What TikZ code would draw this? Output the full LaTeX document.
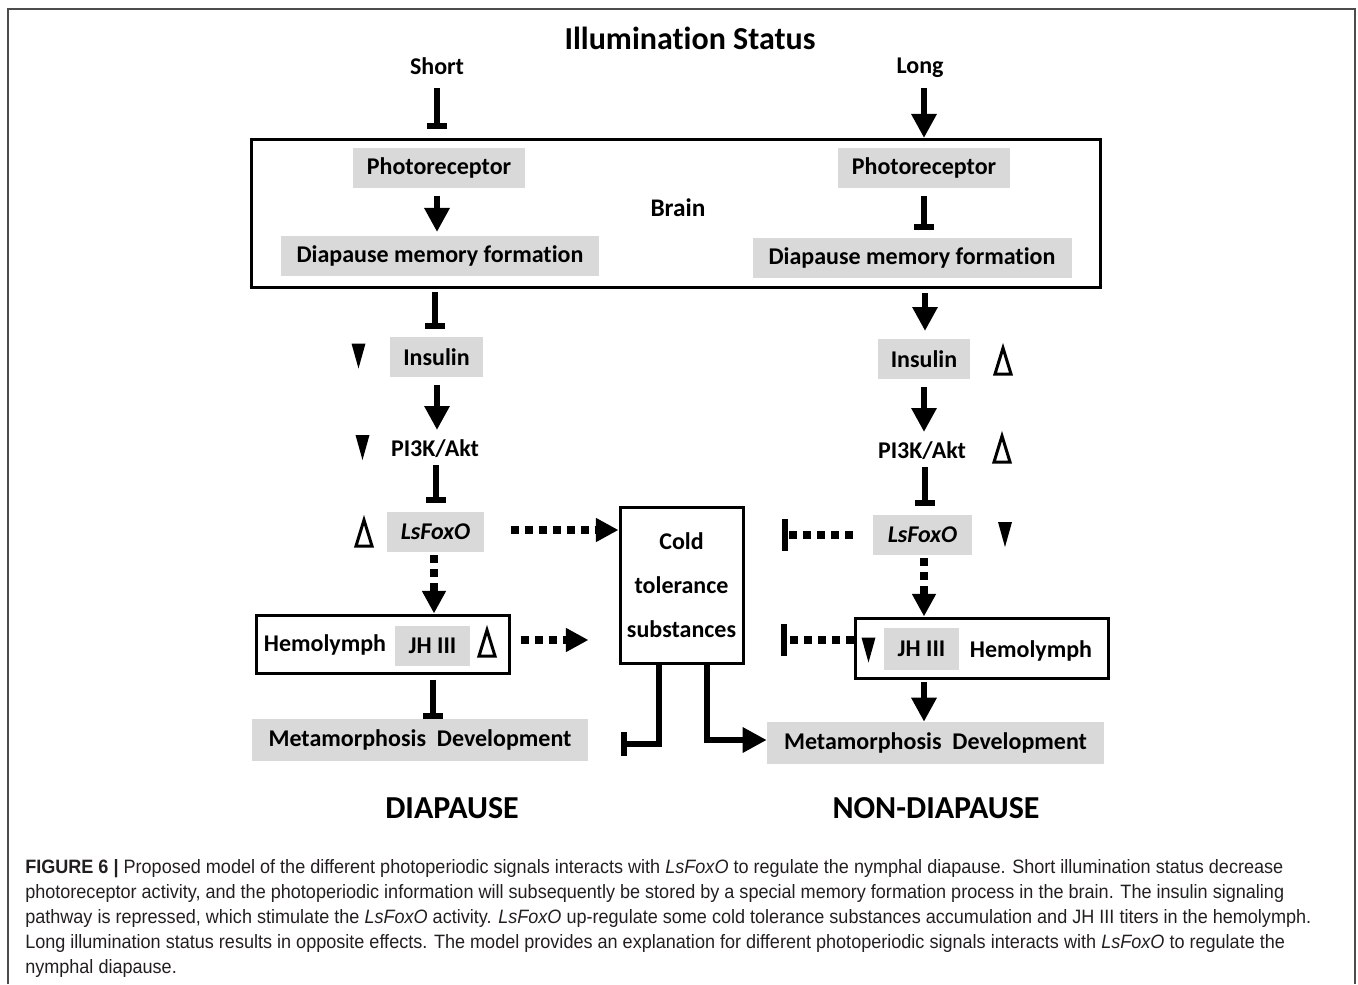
\documentclass[tikz,border=0pt]{standalone}
\usepackage{fontspec}
\setmainfont[Ligatures=NoCommon]{Carlito}
\newfontfamily\capfont[FakeStretch=0.934]{Liberation Sans}
\usetikzlibrary{arrows.meta,calc}
\definecolor{boxgray}{RGB}{217,217,217}
\definecolor{captxt}{RGB}{35,31,32}
\tikzset{
  lbl/.style={font=\bfseries\fontsize{18}{20}\selectfont, inner sep=0pt},
  big/.style={font=\bfseries\fontsize{24}{26}\selectfont, inner sep=0pt},
  gbox/.style={fill=boxgray, inner sep=0pt, minimum height=30pt, font=\bfseries\fontsize{18}{20}\selectfont},
  frame/.style={draw, line width=2.25pt, fill=white, inner sep=0pt},
  act/.style={line width=4.5pt, -{Triangle[width=18pt,length=18pt]}},
  inh/.style={line width=4.5pt, -{Bar[width=15pt]}},
  dact/.style={line width=6pt, dash pattern=on 6pt off 4.5pt, -{Triangle[width=17pt,length=17pt]}},
  dinh/.style={line width=6pt, dash pattern=on 6pt off 4.5pt, -{Bar[width=24pt,line width=5pt]}},
  captext/.style={font=\capfont\fontsize{14.5}{16}\selectfont, text=captxt, anchor=base west, inner sep=0pt},
  dntri/.pic={\fill (-7,-12.5) -- (7,-12.5) -- (0,12.5) -- cycle;},
  uptri/.pic={\draw[line width=2.25pt, line join=miter] (-8,13) -- (8,13) -- (0,-13) -- cycle;}
}
\begin{document}
\begin{tikzpicture}[x=0.75pt,y=-0.75pt]
\useasboundingbox (0,0) rectangle (1358,984);
\draw[black!70, line width=1.5pt] (8,984) -- (8,9) -- (1355,9) -- (1355,984);

% headings
\node[big] (title) at (690,38) {Illumination Status};
\node[lbl] (short) at (437,66) {Short};
\node[lbl] (long) at (920,68) {Long};

% brain
\node[frame, minimum width=636.75pt, minimum height=110.25pt] (brainbox) at (675.5,213.5) {};
\node[gbox, minimum width=129pt] (lph) at (439,168) {Photoreceptor};
\node[gbox, minimum width=238.5pt] (ldm) at (440,256) {Diapause memory formation};
\node[lbl, font=\bfseries\fontsize{19}{21}\selectfont] (brain) at (678,208) {Brain};
\node[gbox, minimum width=129pt] (rph) at (924,168) {Photoreceptor};
\node[gbox, minimum width=239.25pt] (rdm) at (912,258) {Diapause memory formation};

% left column
\node[gbox, minimum width=69.75pt] (lins) at (436.5,357) {Insulin};
\node[lbl] (lpi) at (435,449) {PI3K/Akt};
\node[gbox, minimum width=72.75pt, font=\bfseries\itshape\fontsize{18}{20}\selectfont] (lfox) at (435.5,532) {LsFoxO};
\node[frame, minimum width=189.75pt, minimum height=43.5pt] (lhemo) at (382.5,644) {};
\node[lbl] (lhemotxt) at (325,645) {Hemolymph};
\node[gbox, minimum width=56.25pt] (ljh) at (432.5,646) {JH III};
\node[gbox, minimum width=252pt, minimum height=31.5pt] (lmeta) at (420,740) {Metamorphosis~ Development};

% right column
\node[gbox, minimum width=69pt] (rins) at (924,359) {Insulin};
\node[lbl] (rpi) at (922,451) {PI3K/Akt};
\node[gbox, minimum width=74.25pt, font=\bfseries\itshape\fontsize{18}{20}\selectfont] (rfox) at (922.5,535) {LsFoxO};
\node[frame, minimum width=189.75pt, minimum height=45pt] (rhemo) at (981.5,648) {};
\node[gbox, minimum width=56.25pt, minimum height=31.5pt] (rjh) at (921.5,649) {JH III};
\node[lbl] (rhemotxt) at (1031,651) {Hemolymph};
\node[gbox, minimum width=252.75pt, minimum height=31.5pt] (rmeta) at (935.5,743) {Metamorphosis~ Development};

% cold tolerance
\node[frame, minimum width=92.25pt, minimum height=117pt, align=center,
      font=\bfseries\fontsize{18}{33}\selectfont] (cold) at (681.5,585) {Cold\\tolerance\\substances};

% outcomes
\node[big] (dia) at (452,808) {DIAPAUSE};
\node[big] (ndia) at (936,808) {NON-DIAPAUSE};

% markers
\pic at (358.5,356) {dntri};
\pic at (362.5,447.5) {dntri};
\pic at (364,533) {uptri};
\pic at (487,643) {uptri};
\pic at (1003,361) {uptri};
\pic at (1002,449) {uptri};
\pic at (1005,534.5) {dntri};
\pic at (868.5,650) {dntri};

% connectors
\draw[inh] ($(short)+(0,22)$) -- ($(short)+(0,63)$);
\draw[act] ($(long)+(4,20)$) -- ($(long)+(4,70)$);
\draw[act] ($(lph)+(-2,28)$) -- ($(lph)+(-2,64)$);
\draw[inh] ($(rph)+(0,28)$) -- ($(rph)+(0,62)$);
\draw[inh] ($(lins)+(-1.5,-65)$) -- ($(lins)+(-1.5,-28)$);
\draw[act] ($(rins)+(1,-66)$) -- ($(rins)+(1,-28)$);
\draw[act] ($(lins)+(0.5,28)$) -- ($(lins)+(0.5,73)$);
\draw[act] ($(rins)+(0,28)$) -- ($(rins)+(0,73)$);
\draw[inh] ($(lpi)+(1,16)$) -- ($(lpi)+(1,54)$);
\draw[inh] ($(rpi)+(3,16)$) -- ($(rpi)+(3,55)$);
\draw[dact] ($(lfox)+(75,-2)$) -- (cold.west |- 0,530);
\draw[dinh] ($(rfox)+(-70,0)$) -- ($(rfox)+(-141,0)$);
\draw[dact] ($(lfox)+(-1.5,23)$) -- (lhemo.north -| 434,0);
\draw[dact] ($(rfox)+(1.5,23)$) -- (rhemo.north -| 924,0);
\draw[dact] ($(lhemo.east)+(10,-4)$) -- ($(cold.west)+(-30,55)$);
\draw[dinh] (rhemo.west |- 0,640) -- ($(rhemo.west)+(-73,-8)$);
\draw[inh] ($(lhemo.south)+(50.5,5)$) -- ($(lhemo.south)+(50.5,44)$);
\draw[act] ($(rhemo.south)+(-57.5,2)$) -- ($(rmeta.north)+(-11.5,0)$);
\draw[inh, -{Bar[width=18pt]}] ($(cold.south)+(-22.5,0)$) |- ($(cold.south)+(-61,79)$);
\draw[act] ($(cold.south)+(25.5,0)$) |- (rmeta.west |- 0,740);

% caption
\node[captext] (cap1) at (25,873) {\textbf{FIGURE 6 |} Proposed model of the different photoperiodic signals interacts with \textit{LsFoxO} to regulate the nymphal diapause. Short illumination status decrease};
\node[captext] (cap2) at (25,898) {photoreceptor activity, and the photoperiodic information will subsequently be stored by a special memory formation process in the brain. The insulin signaling};
\node[captext] (cap3) at (25,923) {pathway is repressed, which stimulate the \textit{LsFoxO} activity. \textit{LsFoxO} up-regulate some cold tolerance substances accumulation and JH III titers in the hemolymph.};
\node[captext] (cap4) at (25,948) {Long illumination status results in opposite effects. The model provides an explanation for different photoperiodic signals interacts with \textit{LsFoxO} to regulate the};
\node[captext] (cap5) at (25,973) {nymphal diapause.};
\end{tikzpicture}
\end{document}
